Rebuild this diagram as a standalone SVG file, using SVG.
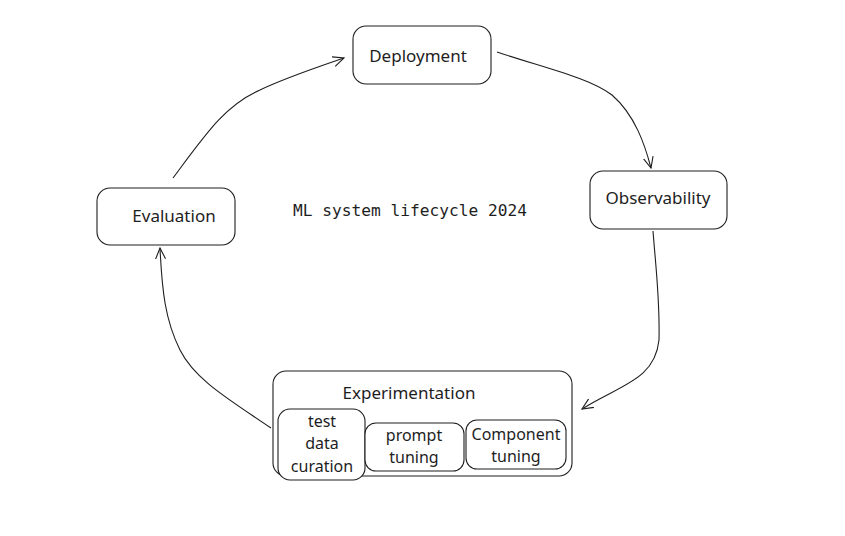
<svg xmlns="http://www.w3.org/2000/svg" width="845" height="536" viewBox="0 0 845 536">
<style>
.box{fill:#fff;stroke:#1e1e1e;stroke-width:1.1}
.lbl{font-family:"Noto Sans","DejaVu Sans",sans-serif;font-size:17px;fill:#1e1e1e;text-anchor:middle}
.sm{font-size:16px}
.edge{fill:none;stroke:#1e1e1e;stroke-width:1.1}
.title{font-family:"DejaVu Sans Mono","Liberation Mono",monospace;font-size:16.2px;fill:#1e1e1e;text-anchor:middle}
</style>
<defs>
<marker id="ah" viewBox="0 0 12 12" refX="11" refY="6" markerWidth="12" markerHeight="12" markerUnits="userSpaceOnUse" orient="auto">
<path d="M0,1 L11,6 L0,11" fill="none" stroke="#1e1e1e" stroke-width="1.1"/>
</marker>
</defs>
<rect width="845" height="536" fill="#fff"/>
<g id="edges">
<path class="edge" d="M173,178 C205,135 225,105 260,90 C285,78 315,68 344,58" marker-end="url(#ah)"/>
<path class="edge" d="M497,52 C545,68 590,78 612,95 C635,115 645,145 651,168" marker-end="url(#ah)"/>
<path class="edge" d="M653,231 C656,270 660,300 659,340 C655,380 620,385 582,409" marker-end="url(#ah)"/>
<path class="edge" d="M271,428 C230,400 195,380 180,350 C165,320 162,290 160,248" marker-end="url(#ah)"/>
</g>
<g id="deployment">
<rect class="box" x="353" y="26" width="138" height="58" rx="13"/>
<text class="lbl" x="418" y="62">Deployment</text>
</g>
<g id="observability">
<rect class="box" x="590" y="171" width="137" height="58" rx="13"/>
<text class="lbl" x="658" y="204">Observability</text>
</g>
<g id="evaluation">
<rect class="box" x="97" y="188" width="138" height="57" rx="13"/>
<text class="lbl" x="174" y="222">Evaluation</text>
</g>
<g id="experimentation">
<rect class="box" x="273" y="371" width="299" height="105" rx="13"/>
<text class="lbl" x="409" y="399">Experimentation</text>
</g>
<g id="test-data-curation">
<rect class="box" x="278" y="409" width="87" height="71" rx="12"/>
<text class="lbl sm" x="322" y="427">test</text>
<text class="lbl sm" x="322" y="449">data</text>
<text class="lbl sm" x="322" y="472">curation</text>
</g>
<g id="prompt-tuning">
<rect class="box" x="365" y="423" width="99" height="48" rx="11"/>
<text class="lbl sm" x="414" y="441">prompt</text>
<text class="lbl sm" x="414" y="463">tuning</text>
</g>
<g id="component-tuning">
<rect class="box" x="466" y="420" width="100" height="49" rx="11"/>
<text class="lbl sm" x="516" y="440">Component</text>
<text class="lbl sm" x="516" y="462">tuning</text>
</g>
<text class="title" x="410" y="216">ML system lifecycle 2024</text>
</svg>
